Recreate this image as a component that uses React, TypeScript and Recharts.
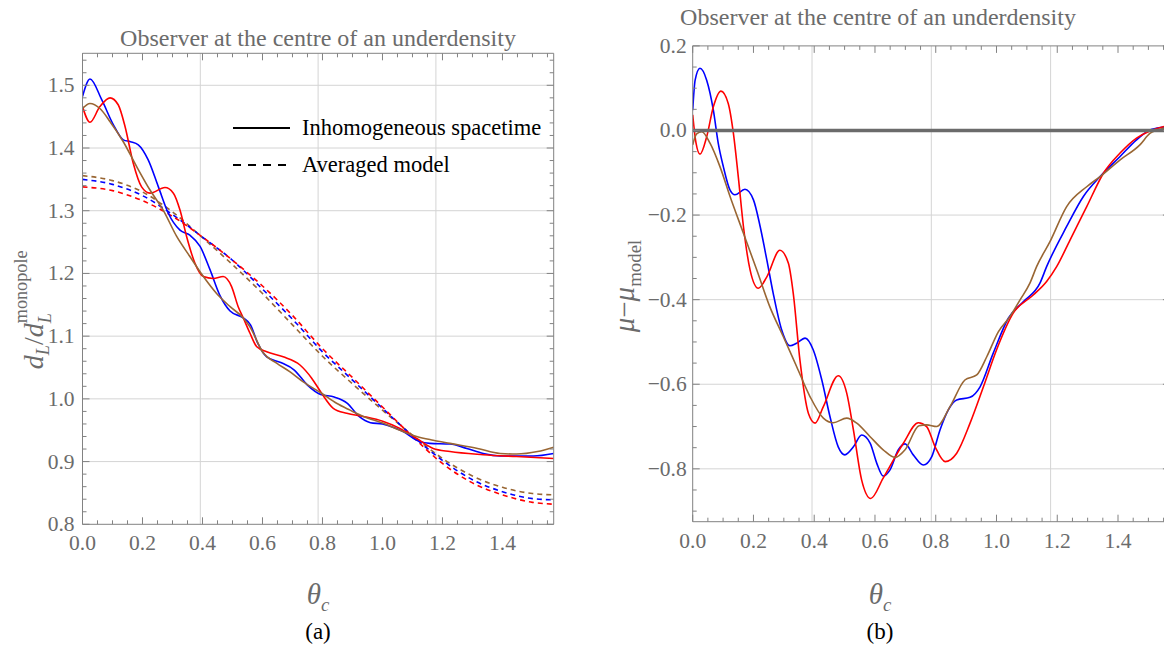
import { LineChart, Line, XAxis, YAxis, ReferenceLine, Legend } from 'recharts'

// [theta, value] samples for each curve
const blueSolidA: [number, number][] = [
  [0, 1.482], [0.025, 1.51], [0.064, 1.477], [0.103, 1.437], [0.136, 1.413], [0.16, 1.41],
  [0.186, 1.405], [0.219, 1.381], [0.253, 1.338], [0.286, 1.296], [0.325, 1.269], [0.358, 1.261],
  [0.392, 1.243], [0.425, 1.206], [0.458, 1.165], [0.492, 1.14], [0.536, 1.129], [0.56, 1.118],
  [0.585, 1.088], [0.614, 1.067], [0.661, 1.058], [0.706, 1.046], [0.75, 1.022], [0.794, 1.007],
  [0.839, 1.003], [0.883, 0.993], [0.922, 0.972], [0.96, 0.962], [1.0, 0.96], [1.04, 0.954],
  [1.069, 0.948], [1.114, 0.934], [1.158, 0.929], [1.225, 0.928], [1.281, 0.921], [1.336, 0.913],
  [1.392, 0.909], [1.447, 0.909], [1.503, 0.909], [1.5708, 0.913],
]
const redSolidA: [number, number][] = [
  [0, 1.466], [0.025, 1.441], [0.058, 1.466], [0.092, 1.48], [0.119, 1.469], [0.142, 1.434],
  [0.169, 1.376], [0.197, 1.338], [0.225, 1.328], [0.275, 1.337], [0.303, 1.328], [0.325, 1.301],
  [0.347, 1.259], [0.375, 1.216], [0.403, 1.195], [0.436, 1.192], [0.469, 1.195], [0.497, 1.179],
  [0.519, 1.147], [0.536, 1.129], [0.558, 1.105], [0.581, 1.083], [0.614, 1.075], [0.669, 1.067],
  [0.725, 1.054], [0.764, 1.033], [0.797, 1.009], [0.836, 0.985], [0.881, 0.977], [0.936, 0.972],
  [1.003, 0.964], [1.058, 0.953], [1.114, 0.937], [1.169, 0.921], [1.225, 0.916], [1.336, 0.911],
  [1.447, 0.908], [1.5708, 0.905],
]
const brownSolidA: [number, number][] = [
  [0, 1.463], [0.025, 1.471], [0.058, 1.463], [0.092, 1.442], [0.136, 1.41], [0.181, 1.37],
  [0.225, 1.333], [0.269, 1.301], [0.314, 1.259], [0.358, 1.227], [0.403, 1.195], [0.447, 1.168],
  [0.492, 1.147], [0.536, 1.129], [0.558, 1.115], [0.603, 1.073], [0.647, 1.057], [0.692, 1.043],
  [0.736, 1.027], [0.797, 1.009], [0.847, 0.993], [0.892, 0.982], [0.936, 0.972], [1.003, 0.961],
  [1.058, 0.95], [1.114, 0.94], [1.169, 0.934], [1.225, 0.929], [1.317, 0.921], [1.392, 0.913],
  [1.447, 0.912], [1.517, 0.916], [1.5708, 0.923],
]
const blueDashedA: [number, number][] = [
  [0, 1.35], [0.1, 1.342], [0.2, 1.324], [0.3, 1.294], [0.4, 1.258], [0.5, 1.221], [0.6, 1.175],
  [0.7, 1.127], [0.8, 1.075], [0.9, 1.03], [1.0, 0.985], [1.1, 0.941], [1.2, 0.902], [1.3, 0.871],
  [1.4, 0.852], [1.5, 0.841], [1.5708, 0.839],
]
const redDashedA: [number, number][] = [
  [0, 1.338], [0.1, 1.332], [0.2, 1.316], [0.3, 1.291], [0.4, 1.258], [0.5, 1.221], [0.6, 1.18],
  [0.7, 1.133], [0.8, 1.08], [0.9, 1.034], [1.0, 0.987], [1.1, 0.94], [1.2, 0.897], [1.3, 0.866],
  [1.4, 0.847], [1.5, 0.835], [1.5708, 0.832],
]
const brownDashedA: [number, number][] = [
  [0, 1.356], [0.1, 1.348], [0.2, 1.33], [0.3, 1.298], [0.4, 1.257], [0.5, 1.214], [0.6, 1.168],
  [0.7, 1.118], [0.8, 1.068], [0.9, 1.024], [1.0, 0.982], [1.1, 0.942], [1.2, 0.905], [1.3, 0.877],
  [1.4, 0.859], [1.5, 0.849], [1.5708, 0.847],
]

const blueB: [number, number][] = [
  [0, 0.048], [0.008, 0.119], [0.024, 0.147], [0.046, 0.119], [0.068, 0.048], [0.084, -0.03],
  [0.101, -0.086], [0.123, -0.141], [0.139, -0.152], [0.172, -0.139], [0.2, -0.164], [0.222, -0.227],
  [0.244, -0.306], [0.265, -0.385], [0.293, -0.472], [0.32, -0.509], [0.342, -0.503], [0.37, -0.491],
  [0.397, -0.519], [0.425, -0.59], [0.452, -0.677], [0.479, -0.748], [0.501, -0.767], [0.529, -0.748],
  [0.556, -0.72], [0.584, -0.739], [0.606, -0.787], [0.627, -0.817], [0.649, -0.803], [0.677, -0.755],
  [0.699, -0.741], [0.726, -0.767], [0.759, -0.791], [0.787, -0.771], [0.814, -0.708], [0.841, -0.661],
  [0.869, -0.637], [0.913, -0.631], [0.946, -0.606], [0.989, -0.527], [1.039, -0.444], [1.088, -0.405],
  [1.143, -0.361], [1.165, -0.322], [1.231, -0.227], [1.286, -0.156], [1.341, -0.109], [1.406, -0.062],
  [1.461, -0.022], [1.505, 0.001], [1.549, 0.008], [1.5708, 0.01],
]
const redB: [number, number][] = [
  [0, 0.037], [0.011, -0.03], [0.024, -0.056], [0.046, -0.015], [0.068, 0.056], [0.093, 0.093],
  [0.117, 0.064], [0.134, -0.007], [0.15, -0.109], [0.167, -0.227], [0.189, -0.33], [0.216, -0.373],
  [0.244, -0.346], [0.287, -0.283], [0.315, -0.314], [0.331, -0.385], [0.353, -0.543], [0.381, -0.669],
  [0.403, -0.692], [0.43, -0.653], [0.479, -0.58], [0.507, -0.621], [0.529, -0.708], [0.556, -0.826],
  [0.586, -0.87], [0.627, -0.822], [0.693, -0.74], [0.743, -0.691], [0.77, -0.7], [0.798, -0.748],
  [0.831, -0.783], [0.869, -0.763], [0.913, -0.692], [0.957, -0.606], [1.0, -0.519], [1.055, -0.432],
  [1.121, -0.389], [1.165, -0.357], [1.198, -0.322], [1.242, -0.259], [1.297, -0.18], [1.352, -0.101],
  [1.406, -0.054], [1.461, -0.018], [1.505, -0.001], [1.549, 0.009], [1.5708, 0.011],
]
const brownB: [number, number][] = [
  [0, -0.034], [0.013, -0.008], [0.03, -0.003], [0.057, -0.03], [0.09, -0.086], [0.123, -0.156],
  [0.167, -0.243], [0.211, -0.33], [0.254, -0.417], [0.298, -0.487], [0.342, -0.558], [0.386, -0.629],
  [0.43, -0.68], [0.463, -0.691], [0.507, -0.68], [0.54, -0.692], [0.584, -0.724], [0.627, -0.755],
  [0.666, -0.773], [0.699, -0.755], [0.745, -0.698], [0.77, -0.696], [0.803, -0.7], [0.847, -0.653],
  [0.896, -0.59], [0.935, -0.578], [0.968, -0.535], [1.006, -0.476], [1.044, -0.44], [1.077, -0.401],
  [1.11, -0.361], [1.132, -0.322], [1.176, -0.263], [1.231, -0.18], [1.297, -0.133], [1.341, -0.109],
  [1.406, -0.07], [1.472, -0.034], [1.505, -0.007], [1.549, 0.005], [1.5708, 0.008],
]
const zeroLineB: [number, number][] = [[0, 0], [Math.PI / 2, 0]]

// axis ticks / grid
const thetaMax = Math.PI / 2
const gridTheta = [Math.PI / 8, Math.PI / 4, (3 * Math.PI) / 8]
const gridYA = [0.9, 1.0, 1.1, 1.2, 1.3, 1.4, 1.5]
const gridYB = [-0.8, -0.6, -0.4, -0.2]

const range = (from: number, to: number, step: number) => {
  const out: number[] = []
  for (let i = 0; from + i * step <= to + 1e-9; i++) out.push(+(from + i * step).toFixed(4))
  return out
}
const thetaTicks = range(0, 1.55, 0.05)
const yTicksA = range(0.8, 1.54, 0.02)
const yTicksB = range(-0.9, 0.2, 0.05)

const FONT = '"Liberation Serif", "Times New Roman", serif'
const GRAY = '#6b6b6b'
const FRAME = '#828282'
const GRID = '#d4d4d4'
const TICK_FONT = 21.5

const pts = (arr: [number, number][]) => arr.map(([x, y]) => ({ x, y }))

const fmt = (v: number) => (v < -1e-9 ? '\u2212' + Math.abs(v).toFixed(1) : Math.abs(v).toFixed(1))

type Side = 'bottom' | 'top' | 'left' | 'right'
function frameTick(side: Side, step: number, labelGap: number) {
  return (props: any) => {
    const { x, y, payload } = props
    const v = payload.value as number
    const major = Math.abs(v / step - Math.round(v / step)) < 1e-6
    const len = major ? 7 : 4
    let x2 = x
    let y2 = y
    if (side === 'bottom') y2 = y - len
    if (side === 'top') y2 = y + len
    if (side === 'left') x2 = x + len
    if (side === 'right') x2 = x - len
    return (
      <g>
        <line x1={x} y1={y} x2={x2} y2={y2} stroke={FRAME} strokeWidth={1} />
        {major && side === 'bottom' && (
          <text x={x} y={y + labelGap} textAnchor="middle" fill={GRAY} fontSize={TICK_FONT} fontFamily={FONT}>
            {fmt(v)}
          </text>
        )}
        {major && side === 'left' && (
          <text x={x - labelGap} y={y + 7} textAnchor="end" fill={GRAY} fontSize={TICK_FONT} fontFamily={FONT}>
            {fmt(v)}
          </text>
        )}
      </g>
    )
  }
}

const legendRows = [
  { label: 'Inhomogeneous spacetime', dash: undefined as string | undefined },
  { label: 'Averaged model', dash: '8 7' },
]

function LegendBox() {
  return (
    <div style={{ fontFamily: FONT, fontSize: 22.5, color: '#000' }}>
      {legendRows.map((r) => (
        <div key={r.label} style={{ display: 'flex', alignItems: 'center', height: 37 }}>
          <svg width={69} height={10}>
            <line x1={0} y1={5} x2={57} y2={5} stroke="#000" strokeWidth={2} strokeDasharray={r.dash} />
          </svg>
          <span>{r.label}</span>
        </div>
      ))}
    </div>
  )
}

const lineProps = {
  type: 'monotone' as const,
  dataKey: 'y',
  dot: false,
  strokeWidth: 1.6,
  xAxisId: 'b',
  yAxisId: 'l',
  isAnimationActive: false,
}

const textStyle: React.CSSProperties = {
  position: 'absolute',
  fontFamily: FONT,
  fontSize: 24,
  color: GRAY,
  whiteSpace: 'nowrap',
  transform: 'translate(-50%, -50%)',
}

export default function App() {
  const axisCommon = { type: 'number' as const, dataKey: 'x', allowDataOverflow: true, interval: 0 as const, tickSize: 0, tickMargin: 0, stroke: FRAME }
  return (
    <div style={{ position: 'fixed', left: 0, top: 0, width: 1164, height: 645, overflow: 'hidden', background: '#fff' }}>
      {/* panel (a) */}
      <div style={{ position: 'absolute', left: 0, top: 0 }}>
        <LineChart width={600} height={645} margin={{ top: 43.3, right: 36.3, bottom: 90.7, left: 22.5 }}>
          <XAxis xAxisId="b" orientation="bottom" height={30} domain={[0, thetaMax]} ticks={thetaTicks} tick={frameTick('bottom', 0.2, 26)} {...axisCommon} />
          <XAxis xAxisId="t" orientation="top" height={10} domain={[0, thetaMax]} ticks={thetaTicks} tick={frameTick('top', 0.2, 0)} {...axisCommon} />
          <YAxis yAxisId="l" orientation="left" width={60} domain={[0.8, 1.551]} ticks={yTicksA} tick={frameTick('left', 0.1, 8)} type="number" allowDataOverflow interval={0} tickSize={0} tickMargin={0} stroke={FRAME} />
          <YAxis yAxisId="r" orientation="right" width={10} domain={[0.8, 1.551]} ticks={yTicksA} tick={frameTick('right', 0.1, 0)} type="number" allowDataOverflow interval={0} tickSize={0} tickMargin={0} stroke={FRAME} />
          {gridTheta.map((g) => (
            <ReferenceLine key={'gx' + g} x={g} xAxisId="b" yAxisId="l" stroke={GRID} strokeWidth={1} />
          ))}
          {gridYA.map((g) => (
            <ReferenceLine key={'gy' + g} y={g} xAxisId="b" yAxisId="l" stroke={GRID} strokeWidth={1} />
          ))}
          <Legend layout="horizontal" verticalAlign="middle" align="center" wrapperStyle={{ left: 233, top: 109.5, width: 340 }} content={() => <LegendBox />} />
          <Line {...lineProps} data={pts(brownDashedA)} stroke="#996633" strokeDasharray="5 4" />
          <Line {...lineProps} data={pts(blueDashedA)} stroke="#0000ff" strokeDasharray="5 4" />
          <Line {...lineProps} data={pts(redDashedA)} stroke="#ff0000" strokeDasharray="5 4" />
          <Line {...lineProps} data={pts(blueSolidA)} stroke="#0000ff" />
          <Line {...lineProps} data={pts(redSolidA)} stroke="#ff0000" />
          <Line {...lineProps} data={pts(brownSolidA)} stroke="#996633" />
        </LineChart>
      </div>

      {/* panel (b) */}
      <div style={{ position: 'absolute', left: 600, top: 0 }}>
        <LineChart width={600} height={645} margin={{ top: 35.9, right: 20.1, bottom: 93.3, left: 32.7 }}>
          <XAxis xAxisId="b" orientation="bottom" height={30} domain={[0, thetaMax]} ticks={thetaTicks} tick={frameTick('bottom', 0.2, 26)} {...axisCommon} />
          <XAxis xAxisId="t" orientation="top" height={10} domain={[0, thetaMax]} ticks={thetaTicks} tick={frameTick('top', 0.2, 0)} {...axisCommon} />
          <YAxis yAxisId="l" orientation="left" width={60} domain={[-0.925, 0.2]} ticks={yTicksB} tick={frameTick('left', 0.2, 6)} type="number" allowDataOverflow interval={0} tickSize={0} tickMargin={0} stroke={FRAME} />
          <YAxis yAxisId="r" orientation="right" width={10} domain={[-0.925, 0.2]} ticks={yTicksB} tick={frameTick('right', 0.2, 0)} type="number" allowDataOverflow interval={0} tickSize={0} tickMargin={0} stroke={FRAME} />
          {gridTheta.map((g) => (
            <ReferenceLine key={'gx' + g} x={g} xAxisId="b" yAxisId="l" stroke={GRID} strokeWidth={1} />
          ))}
          {gridYB.map((g) => (
            <ReferenceLine key={'gy' + g} y={g} xAxisId="b" yAxisId="l" stroke={GRID} strokeWidth={1} />
          ))}
          <Line {...lineProps} data={pts(blueB)} stroke="#0000ff" />
          <Line {...lineProps} data={pts(redB)} stroke="#ff0000" />
          <Line {...lineProps} data={pts(brownB)} stroke="#996633" />
          <Line {...lineProps} data={pts(zeroLineB)} type="linear" stroke="#6b6b6b" strokeWidth={3.3} />
        </LineChart>
      </div>

      {/* titles and axis labels */}
      <div style={{ ...textStyle, left: 318, top: 38 }}>Observer at the centre of an underdensity</div>
      <div style={{ ...textStyle, left: 878, top: 17 }}>Observer at the centre of an underdensity</div>

      <div style={{ ...textStyle, left: 36, top: 312, fontSize: 28, transform: 'translate(-50%, -50%) rotate(-90deg)' }}>
        <i>d</i>
        <sub style={{ fontSize: '0.65em' }}><i>L</i></sub>/<i>d</i>
        <span style={{ position: 'relative', fontSize: '0.65em' }}>
          <i style={{ position: 'relative', top: '0.45em' }}>L</i>
          <span style={{ position: 'absolute', left: 0, top: '-0.9em' }}>monopole</span>
        </span>
        <span style={{ display: 'inline-block', width: '3.2em', fontSize: '0.65em' }} />
      </div>
      <div style={{ ...textStyle, left: 627, top: 286, fontSize: 29, transform: 'translate(-50%, -50%) rotate(-90deg)' }}>
        <i>μ</i>−<i>μ</i>
        <sub style={{ fontSize: '0.65em' }}>model</sub>
      </div>

      <div style={{ ...textStyle, left: 318, top: 597, fontSize: 29 }}>
        <i>θ</i><sub style={{ fontSize: '0.65em' }}><i>c</i></sub>
      </div>
      <div style={{ ...textStyle, left: 880, top: 597, fontSize: 29 }}>
        <i>θ</i><sub style={{ fontSize: '0.65em' }}><i>c</i></sub>
      </div>

      <div style={{ ...textStyle, left: 318, top: 632, fontSize: 23, color: '#000' }}>(a)</div>
      <div style={{ ...textStyle, left: 880, top: 632, fontSize: 23, color: '#000' }}>(b)</div>
    </div>
  )
}
